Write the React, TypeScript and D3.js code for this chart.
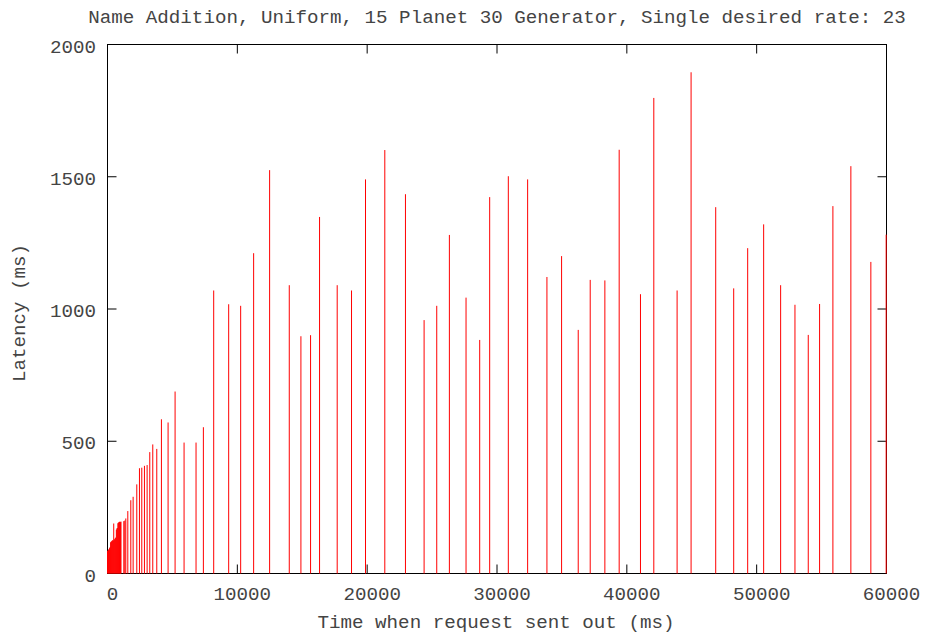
import React from "react";
import * as d3 from "d3";

const title = "Name Addition, Uniform, 15 Planet 30 Generator, Single desired rate: 23";
const xLabel = "Time when request sent out (ms)";
const yLabel = "Latency (ms)";

const xTicks = [0, 10000, 20000, 30000, 40000, 50000, 60000];
const yTicks = [0, 500, 1000, 1500, 2000];

// request send time (ms)
const sendTimes = [
  0, 40, 80, 120, 160, 200, 240, 280, 320, 360, 400, 440, 480, 520, 560, 600,
  640, 680, 720, 760, 800, 840, 880, 920, 960, 1000, 1040,
  1256, 1333, 1410, 1564, 1795, 1974, 2256, 2462, 2641, 2846, 3051, 3256, 3487,
  3795, 4154, 4667, 5205, 5897, 6820, 7385, 8179, 9333, 10256, 11256, 12487,
  14000, 14897, 15641, 16333, 17692, 18795, 19872, 21359, 22949, 24385, 25359,
  26333, 27615, 28667, 29436, 30872, 32359, 33846, 34974, 36256, 37179, 38308,
  39410, 41051, 42077, 43872, 44949, 46846, 48231, 49308, 50538, 51846, 52949,
  53974, 54846, 55872, 57256, 58795, 59974,
];

// latency (ms)
const latencies = [
  85, 88, 90, 92, 96, 100, 118, 120, 122, 124, 126, 124, 189, 128, 130, 134,
  136, 165, 170, 172, 190, 192, 194, 195, 196, 194, 196,
  198, 200, 208, 236, 277, 290, 337, 398, 400, 407, 410, 459, 488,
  471, 583, 571, 688, 495, 495, 553, 1070, 1018, 1012, 1211, 1525,
  1090, 897, 901, 1348, 1090, 1070, 1490, 1601, 1434, 958, 1012,
  1280, 1043, 883, 1423, 1502, 1490, 1121, 1200, 921, 1110, 1108,
  1602, 1056, 1798, 1070, 1895, 1385, 1078, 1230, 1320, 1090, 1016,
  902, 1019, 1389, 1540, 1178, 1281,
];

const W = 925;
const H = 637;
const left = 107.5;
const right = 886.5;
const top = 44.5;
const bottom = 573.5;
const font = "'Liberation Mono', 'Courier New', monospace";
const textColor = "#444";
const fs = 19.2;

export default function App() {
  const x = d3.scaleLinear().domain([0, 60000]).range([left, right]);
  const y = d3.scaleLinear().domain([0, 2000]).range([bottom, top]);
  const tickLen = 9;
  const data = sendTimes.map((t, i) => ({ t, v: latencies[i] }));

  return (
    <svg
      width={W}
      height={H}
      style={{ position: "absolute", left: 0, top: 0, background: "#fff" }}
      fontFamily={font}
    >
      <rect x={0} y={0} width={W} height={H} fill="#fff" />
      <text x={497} y={23} textAnchor="middle" fontSize={fs} fill={textColor}>
        {title}
      </text>

      {/* border */}
      <rect
        x={left}
        y={top}
        width={right - left}
        height={bottom - top}
        fill="none"
        stroke="#000"
        strokeWidth={1}
      />

      {/* y ticks */}
      {yTicks.map((v) => (
        <g key={"y" + v}>
          <line x1={left} x2={left + tickLen} y1={y(v)} y2={y(v)} stroke="#000" />
          <line x1={right} x2={right - tickLen} y1={y(v)} y2={y(v)} stroke="#000" />
          <text
            x={96}
            y={y(v) + 8}
            textAnchor="end"
            fontSize={fs}
            fill={textColor}
          >
            {String(v)}
          </text>
        </g>
      ))}

      {/* x ticks */}
      {xTicks.map((v) => (
        <g key={"x" + v}>
          <line x1={x(v)} x2={x(v)} y1={bottom} y2={bottom - tickLen} stroke="#000" />
          <line x1={x(v)} x2={x(v)} y1={top} y2={top + tickLen} stroke="#000" />
          <text
            x={x(v) + 5}
            y={600}
            textAnchor="middle"
            fontSize={fs}
            fill={textColor}
          >
            {String(v)}
          </text>
        </g>
      ))}

      {/* impulses */}
      {data.map((d, i) => (
        <line
          key={"p" + i}
          x1={x(d.t)}
          x2={x(d.t)}
          y1={y(0)}
          y2={y(d.v)}
          stroke="#ff0000"
          strokeWidth={1}
        />
      ))}

      <text x={496} y={628} textAnchor="middle" fontSize={fs} fill={textColor}>
        {xLabel}
      </text>
      <text
        transform={`translate(25, 313) rotate(-90)`}
        textAnchor="middle"
        fontSize={fs}
        fill={textColor}
      >
        {yLabel}
      </text>
    </svg>
  );
}
